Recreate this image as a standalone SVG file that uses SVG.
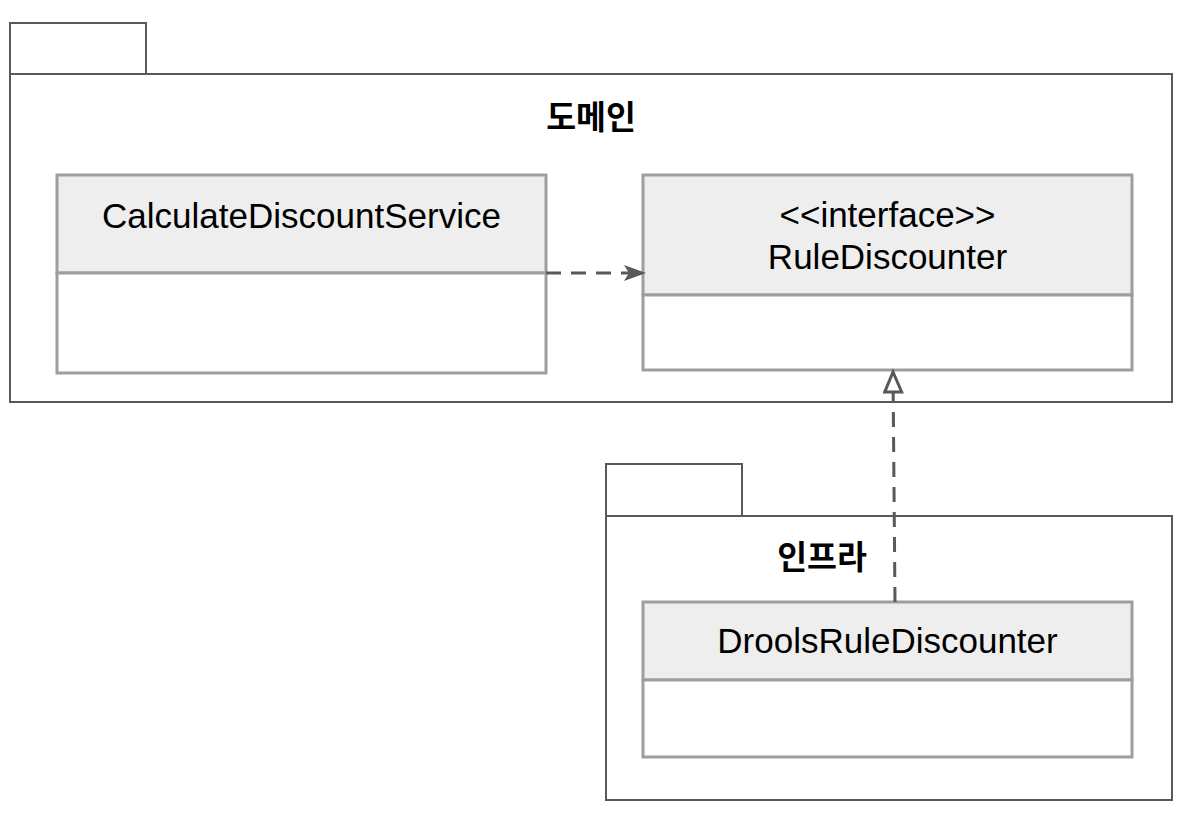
<svg xmlns="http://www.w3.org/2000/svg" width="1186" height="818" viewBox="0 0 1186 818">
<style>
.pkg{fill:#ffffff;stroke:#595959;stroke-width:2}
.box{fill:#ffffff;stroke:#9e9e9e;stroke-width:3}
.hdr{fill:#eeeeee;stroke:#9e9e9e;stroke-width:3}
.t{font-family:"Liberation Sans",Arial,sans-serif;font-size:35px;fill:#000000;text-anchor:middle}
.pt{font-family:"Liberation Sans","Noto Sans CJK KR",sans-serif;font-size:32.5px;font-weight:bold;fill:#000000;text-anchor:middle}
.dash{fill:none;stroke:#595959;stroke-width:3;stroke-dasharray:15,10}
</style>
<defs>
<marker id="open" markerUnits="userSpaceOnUse" markerWidth="26" markerHeight="22" refX="23" refY="9" orient="auto">
<path d="M1,1 L23,9 L1,17 L6,9 Z" fill="#595959"/>
</marker>
<marker id="tri" markerUnits="userSpaceOnUse" markerWidth="26" markerHeight="26" refX="22" refY="10" orient="auto">
<path d="M2,1.5 L22,10 L2,18.5 Z" fill="#ffffff" stroke="#595959" stroke-width="3" stroke-linejoin="miter"/>
</marker>
</defs>
<rect width="1186" height="818" fill="#ffffff"/>
<g id="pkg-domain">
<rect class="pkg" x="10" y="23" width="136" height="51"/>
<rect class="pkg" x="10" y="74" width="1162" height="328"/>
<text class="pt" x="591" y="129">도메인</text>
</g>
<g id="pkg-infra">
<rect class="pkg" x="606" y="464" width="136" height="52"/>
<rect class="pkg" x="606" y="516" width="566" height="284"/>
<text class="pt" x="822" y="569">인프라</text>
</g>
<g id="calc">
<rect class="hdr" x="57" y="175" width="489" height="98"/>
<rect class="box" x="57" y="273" width="489" height="100"/>
<text class="t" x="301.5" y="228">CalculateDiscountService</text>
</g>
<g id="rule">
<rect class="hdr" x="643" y="175" width="489" height="120"/>
<rect class="box" x="643" y="295" width="489" height="75"/>
<text class="t" x="887.5" y="227">&lt;&lt;interface&gt;&gt;</text>
<text class="t" x="887.5" y="269">RuleDiscounter</text>
</g>
<g id="drools">
<rect class="hdr" x="643" y="602" width="489" height="78"/>
<rect class="box" x="643" y="680" width="489" height="77"/>
<text class="t" x="887.5" y="653">DroolsRuleDiscounter</text>
</g>
<g id="connectors">
<line class="dash" x1="546" y1="273" x2="646" y2="273" marker-end="url(#open)"/>
<line class="dash" x1="895" y1="602" x2="893" y2="372" marker-end="url(#tri)"/>
</g>
</svg>
